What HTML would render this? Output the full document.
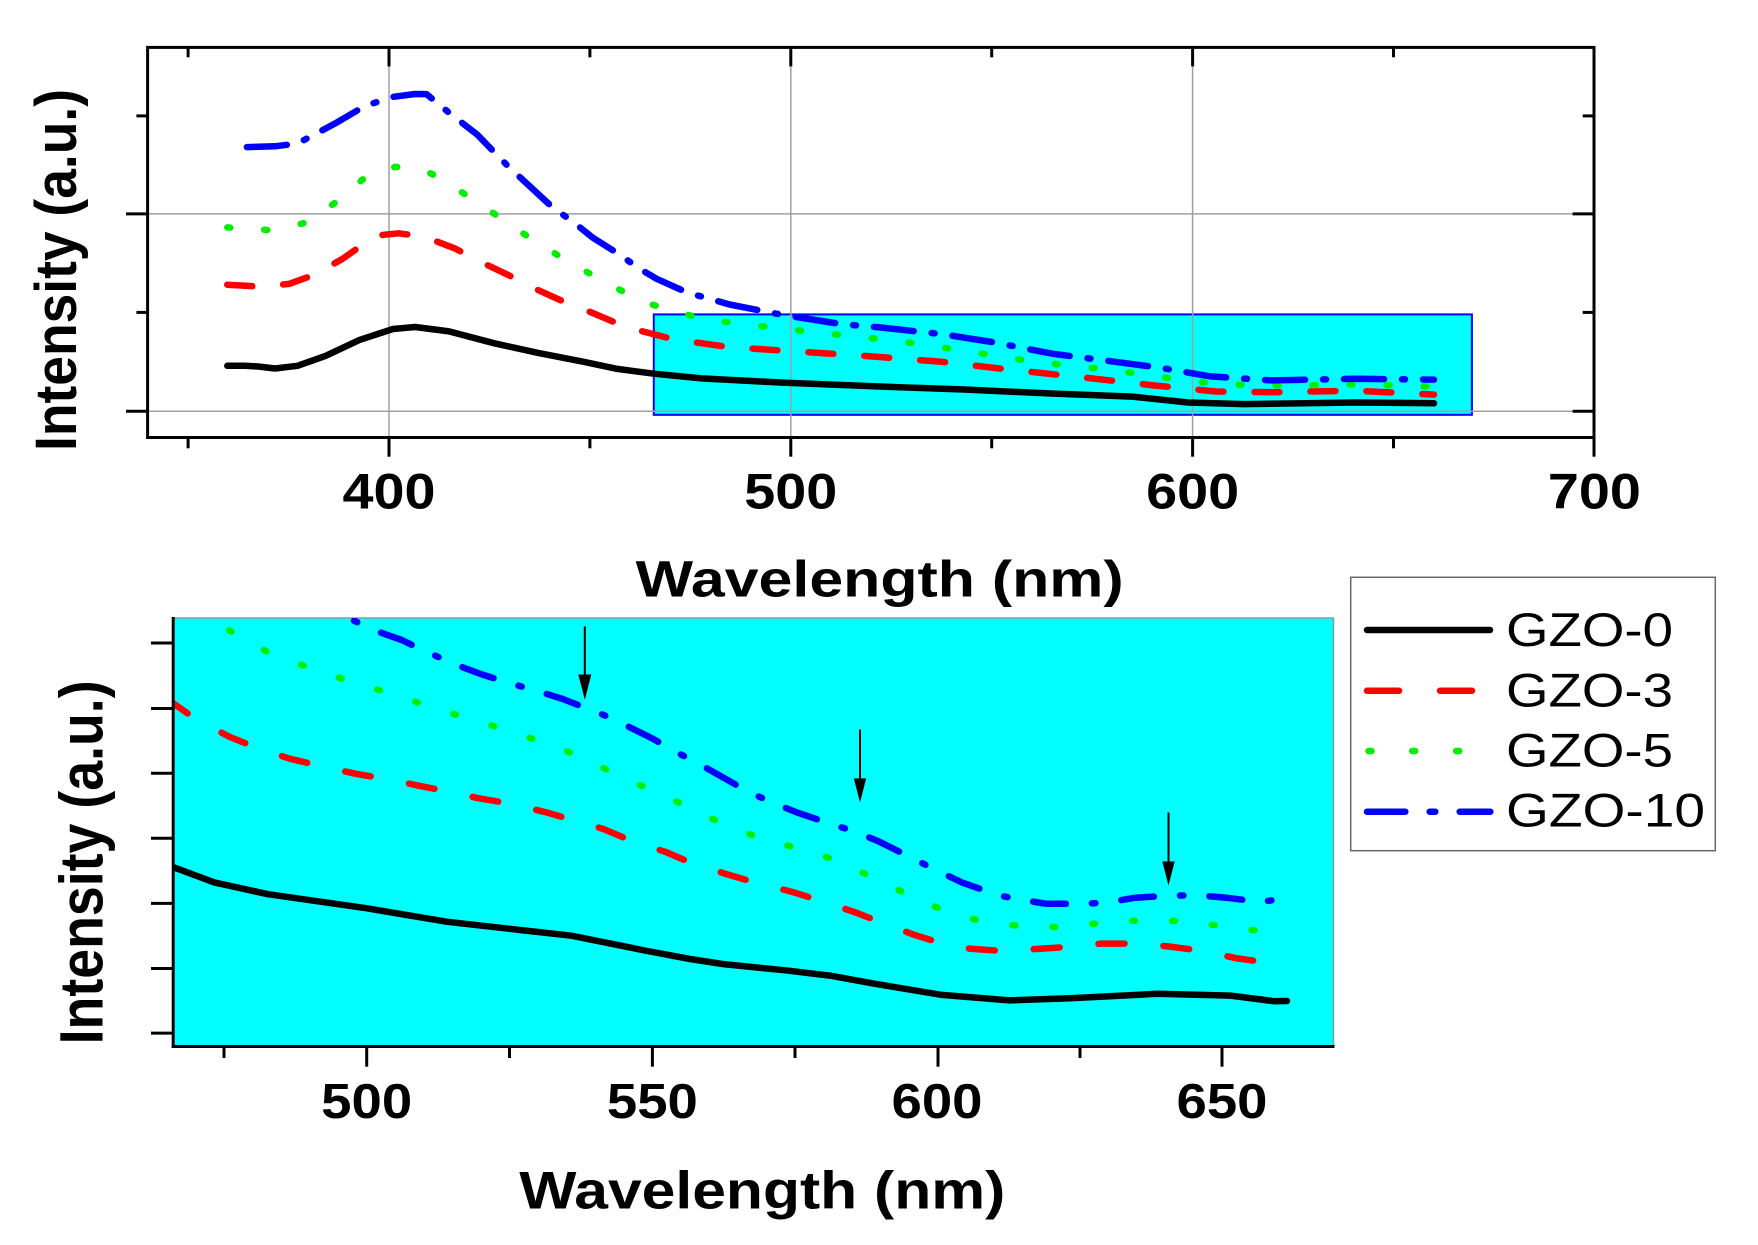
<!DOCTYPE html>
<html>
<head>
<meta charset="utf-8">
<style>
html,body{margin:0;padding:0;background:#fff;}
svg{display:block;}
text{font-family:"Liberation Sans",Arial,sans-serif;fill:#000;}
.b{font-weight:bold;}
</style>
</head>
<body>
<svg width="1758" height="1245" viewBox="0 0 1758 1245" xmlns="http://www.w3.org/2000/svg">
<rect x="0" y="0" width="1758" height="1245" fill="#fff"/>

<!-- ================= TOP PLOT ================= -->
<!-- zoom rectangle -->
<rect x="653.8" y="314.4" width="818.1" height="100.4" fill="#00FFFF" stroke="#0000FF" stroke-width="2"/>
<!-- grid -->
<g stroke="#a0a0a0" stroke-width="1.5">
<line x1="389" y1="47.4" x2="389" y2="437.5"/>
<line x1="790.8" y1="47.4" x2="790.8" y2="437.5"/>
<line x1="1192.6" y1="47.4" x2="1192.6" y2="437.5"/>
<line x1="147.6" y1="213.9" x2="1594" y2="213.9"/>
<line x1="147.6" y1="411.2" x2="1594" y2="411.2"/>
</g>

<!-- curves top -->
<g fill="none" stroke-width="6.5" stroke-linecap="round" stroke-linejoin="round">
<polyline stroke="#000" points="227.3,365.8 245,365.8 258.2,366.5 275,368.5 297.5,365.8 325.5,355.9 359.2,340.1 392.9,329 415.3,327 449,331.4 493.9,343.2 538.8,353.1 583.7,361.8 617.3,368.9 653.8,373.7 701.5,378.4 785.7,382.8 880,386.5 964,389.5 1048,393.4 1132,396.6 1188,402.5 1244,404.1 1356,402.5 1434,403.3"/>
<polyline stroke="#FF0000" stroke-dasharray="25 31" points="227.3,284.7 261,286.7 289,283.9 314.3,274.8 342.3,259 367.6,241.2 382,235 398.5,233.3 423.7,236.5 454.6,248.3 477,260.2 507.9,274.8 533.2,287.9 561.2,300.5 586.5,310.4 617.3,323.4 642.6,331.4 673.5,339.3 729.6,347.2 791.3,351.1 864.3,355.9 941.6,361.8 1003.2,368.9 1095.6,378.8 1154.4,385.5 1216,391.5 1272,392.2 1356,390.7 1434,394.6"/>
<polyline stroke="#00EE00" stroke-dasharray="3 34" points="227.3,227.4 269.4,230.1 303.1,223.4 333.9,203.6 362,179.9 380,170 395.7,166.9 415,168 432.1,174 463,193 493.9,213.5 510.7,225.4 544.4,247.1 575.3,265.7 608.9,283.9 639.8,300.5 676.3,312.4 712.8,320.3 785.7,329 858.7,336.9 896.8,340.8 964,350.7 1034,361.8 1109.6,369.7 1179.6,379.6 1218.8,384.3 1294.4,385.5 1356,384.3 1434,386.7"/>
<polyline stroke="#0000FF" stroke-dasharray="40 18 3 18" points="246.9,147.1 275,146.3 297.5,143.5 336.7,122.6 364.8,106 392.9,96.9 415,94 426.5,94.1 449,112.7 477,134.4 507.9,166.1 552.8,207.6 572.5,221.4 592.1,237.2 617.3,253.1 639.8,268.9 656.6,278.8 687.5,292.6 729.6,304.5 780.1,314.4 841.8,324.2 880,327.4 941.6,334.1 992,342 1053.6,353.9 1115.2,361.8 1160,367.7 1210.4,376.4 1272,380.4 1356,378.8 1434,379.6"/>
</g>

<!-- top frame -->
<rect x="147.6" y="47.4" width="1446.4" height="390.1" fill="none" stroke="#000" stroke-width="3"/>
<g stroke="#000" stroke-width="3">
<!-- bottom ticks outward -->
<line x1="389" y1="437.5" x2="389" y2="456.7"/>
<line x1="790.8" y1="437.5" x2="790.8" y2="456.7"/>
<line x1="1192.6" y1="437.5" x2="1192.6" y2="456.7"/>
<line x1="1594" y1="437.5" x2="1594" y2="456.7"/>
<line x1="188.1" y1="437.5" x2="188.1" y2="448.3"/>
<line x1="589.9" y1="437.5" x2="589.9" y2="448.3"/>
<line x1="991.7" y1="437.5" x2="991.7" y2="448.3"/>
<line x1="1393.5" y1="437.5" x2="1393.5" y2="448.3"/>
<!-- top ticks inward -->
<line x1="389" y1="47.4" x2="389" y2="66.4"/>
<line x1="790.8" y1="47.4" x2="790.8" y2="66.4"/>
<line x1="1192.6" y1="47.4" x2="1192.6" y2="66.4"/>
<line x1="188.1" y1="47.4" x2="188.1" y2="57.3"/>
<line x1="589.9" y1="47.4" x2="589.9" y2="57.3"/>
<line x1="991.7" y1="47.4" x2="991.7" y2="57.3"/>
<line x1="1393.5" y1="47.4" x2="1393.5" y2="57.3"/>
<!-- left ticks outward -->
<line x1="126" y1="213.9" x2="147.6" y2="213.9"/>
<line x1="126" y1="411.2" x2="147.6" y2="411.2"/>
<line x1="136.4" y1="115.9" x2="147.6" y2="115.9"/>
<line x1="136.4" y1="312.4" x2="147.6" y2="312.4"/>
<!-- right ticks inward -->
<line x1="1572.6" y1="213.9" x2="1594" y2="213.9"/>
<line x1="1572.6" y1="411.2" x2="1594" y2="411.2"/>
<line x1="1582.7" y1="115.9" x2="1594" y2="115.9"/>
<line x1="1582.7" y1="312.4" x2="1594" y2="312.4"/>
</g>

<!-- top tick labels -->
<g class="b" font-size="50" text-anchor="middle">
<text x="389" y="508.5" textLength="93" lengthAdjust="spacingAndGlyphs">400</text>
<text x="790.8" y="508.5" textLength="93" lengthAdjust="spacingAndGlyphs">500</text>
<text x="1192.6" y="508.5" textLength="93" lengthAdjust="spacingAndGlyphs">600</text>
<text x="1594.4" y="508.5" textLength="93" lengthAdjust="spacingAndGlyphs">700</text>
</g>
<text class="b" font-size="51" x="879.7" y="596.7" text-anchor="middle" textLength="488" lengthAdjust="spacingAndGlyphs">Wavelength (nm)</text>
<text class="b" font-size="51" text-anchor="middle" transform="translate(76,270) scale(1.15,1) rotate(-90)" textLength="362" lengthAdjust="spacingAndGlyphs">Intensity (a.u.)</text>

<!-- ================= BOTTOM PLOT ================= -->
<defs>
<clipPath id="cl"><rect x="173.2" y="618" width="1160.3" height="428.5"/></clipPath>
</defs>
<rect x="173.2" y="618" width="1160.3" height="428.5" fill="#00FFFF" stroke="#7f9f9f" stroke-width="1.5"/>

<g clip-path="url(#cl)" fill="none" stroke-width="6.5" stroke-linecap="round" stroke-linejoin="round">
<polyline stroke="#000" points="160,862 173.2,867.1 214.3,882.4 267.9,894.2 366.1,908.2 446.4,921.7 520,930 571.4,935.7 647.3,951 690,959 723.4,964.1 788.4,970.7 831.8,975.9 875.1,983.8 940.2,994.7 1009.6,1000.4 1070.3,998.2 1157,993.8 1230.7,995.6 1274.1,1001.2 1287,1001"/>
<polyline stroke="#FF0000" stroke-dasharray="26 39" stroke-dashoffset="-20" points="150,687 173.2,703.3 196.4,719.5 229.9,737 258.9,748.7 290.2,758.8 321.4,766.2 357.1,774.1 390.6,779.7 419.6,785.9 448.7,791.5 477.7,798.1 511.2,803.8 546.9,812.5 602.7,828.7 633.9,841.8 665.2,851.8 693,863.6 727.7,874.5 758.1,883.3 792.7,892 827.4,903 853.5,911.7 883.8,923.5 914.2,934.8 942.4,943.6 970.5,948.8 1003.1,951 1039.9,948.8 1072.5,946.6 1100.6,943.6 1135.3,943.6 1170,946.6 1202.5,951 1237.3,958.4 1269.8,962.8"/>
<polyline stroke="#00EE00" stroke-dasharray="3 37" stroke-dashoffset="-3" points="190,612 229.9,630.8 265.6,650.9 303.6,665.7 343.8,679.3 379.5,690.2 417.4,702.4 457.6,715.1 493.3,726 533.5,739.1 571.4,753.1 611.6,771.9 649.6,789.4 685.3,805.5 719,822.1 758.1,837.4 794.9,847.5 833.9,859.3 873,877.6 909.8,895.5 946.7,911.7 972.7,919.1 1011.7,925.2 1055.1,927 1096.3,923.5 1131,920.9 1174.4,920.9 1215.6,925.2 1258,930.7"/>
<polyline stroke="#0000FF" stroke-dasharray="33 26 3.5 26" points="300,597 348.2,618.1 379.5,632.1 401.8,640 424.1,650.9 459.8,666.2 482.1,674.5 506.7,682.3 540.2,691.9 562.5,698.9 604.9,715.5 627.2,726 651.8,738.2 680.8,754.4 701.7,765.3 749.4,792.4 775.4,803.8 797.1,812.5 831.8,824.3 855.6,831.7 879.5,841.8 912,858 938,871.1 961.9,882.4 998.7,895.5 1022.6,899.9 1046.4,903.8 1085.5,903.8 1109.3,902.1 1135.3,897.7 1174.4,895.5 1200.4,895.5 1226.4,897.7 1261.1,902.1 1285,898"/>
</g>

<!-- arrows -->
<g stroke="#000" stroke-width="2">
<line x1="584.8" y1="626.4" x2="584.8" y2="678"/>
<line x1="860" y1="729.5" x2="860" y2="781"/>
<line x1="1168.5" y1="812.5" x2="1168.5" y2="864"/>
</g>
<g fill="#000">
<polygon points="578.3,674.5 591.3,674.5 584.8,699.8"/>
<polygon points="853.8,778.4 866.2,778.4 860,802.5"/>
<polygon points="1162.3,861.5 1174.7,861.5 1168.5,885.5"/>
</g>

<!-- bottom axes -->
<g stroke="#000" stroke-width="3">
<line x1="173.2" y1="617" x2="173.2" y2="1048"/>
<line x1="171.7" y1="1046.5" x2="1334.5" y2="1046.5"/>
<line x1="151" y1="643" x2="173.2" y2="643"/>
<line x1="151" y1="708.5" x2="173.2" y2="708.5"/>
<line x1="151" y1="773.2" x2="173.2" y2="773.2"/>
<line x1="151" y1="838.3" x2="173.2" y2="838.3"/>
<line x1="151" y1="903.4" x2="173.2" y2="903.4"/>
<line x1="151" y1="968.5" x2="173.2" y2="968.5"/>
<line x1="151" y1="1033.1" x2="173.2" y2="1033.1"/>
<line x1="366.7" y1="1046.5" x2="366.7" y2="1066.7"/>
<line x1="652.4" y1="1046.5" x2="652.4" y2="1066.7"/>
<line x1="938" y1="1046.5" x2="938" y2="1066.7"/>
<line x1="1222" y1="1046.5" x2="1222" y2="1066.7"/>
<line x1="224" y1="1046.5" x2="224" y2="1058"/>
<line x1="509.5" y1="1046.5" x2="509.5" y2="1058"/>
<line x1="795" y1="1046.5" x2="795" y2="1058"/>
<line x1="1080" y1="1046.5" x2="1080" y2="1058"/>
</g>

<g class="b" font-size="49" text-anchor="middle">
<text x="366.7" y="1118" textLength="91" lengthAdjust="spacingAndGlyphs">500</text>
<text x="652.4" y="1118" textLength="91" lengthAdjust="spacingAndGlyphs">550</text>
<text x="937" y="1118" textLength="91" lengthAdjust="spacingAndGlyphs">600</text>
<text x="1222" y="1118" textLength="91" lengthAdjust="spacingAndGlyphs">650</text>
</g>
<text class="b" font-size="53" x="762.3" y="1208.5" text-anchor="middle" textLength="486" lengthAdjust="spacingAndGlyphs">Wavelength (nm)</text>
<text class="b" font-size="53" text-anchor="middle" transform="translate(102.7,862.4) scale(1.15,1) rotate(-90)" textLength="364" lengthAdjust="spacingAndGlyphs">Intensity (a.u.)</text>

<!-- legend -->
<rect x="1350.7" y="577.3" width="364.6" height="273.4" fill="#fff" stroke="#666" stroke-width="1.5"/>
<g fill="none" stroke-width="6.5" stroke-linecap="round">
<line x1="1367" y1="630" x2="1490" y2="630" stroke="#000"/>
<line x1="1367" y1="690.7" x2="1399" y2="690.7" stroke="#FF0000"/>
<line x1="1440" y1="690.7" x2="1472" y2="690.7" stroke="#FF0000"/>
<line x1="1368.5" y1="751" x2="1371.5" y2="751" stroke="#00EE00"/>
<line x1="1412.2" y1="751" x2="1415.2" y2="751" stroke="#00EE00"/>
<line x1="1456.2" y1="751" x2="1459.2" y2="751" stroke="#00EE00"/>
<line x1="1367" y1="811.7" x2="1405.3" y2="811.7" stroke="#0000FF"/>
<line x1="1429.7" y1="811.7" x2="1435.3" y2="811.7" stroke="#0000FF"/>
<line x1="1459.7" y1="811.7" x2="1490.3" y2="811.7" stroke="#0000FF"/>
</g>
<g font-size="47">
<text x="1506" y="646" textLength="167" lengthAdjust="spacingAndGlyphs">GZO-0</text>
<text x="1506" y="706.7" textLength="167" lengthAdjust="spacingAndGlyphs">GZO-3</text>
<text x="1506" y="766.7" textLength="167" lengthAdjust="spacingAndGlyphs">GZO-5</text>
<text x="1506" y="826.7" textLength="199" lengthAdjust="spacingAndGlyphs">GZO-10</text>
</g>
</svg>
</body>
</html>
